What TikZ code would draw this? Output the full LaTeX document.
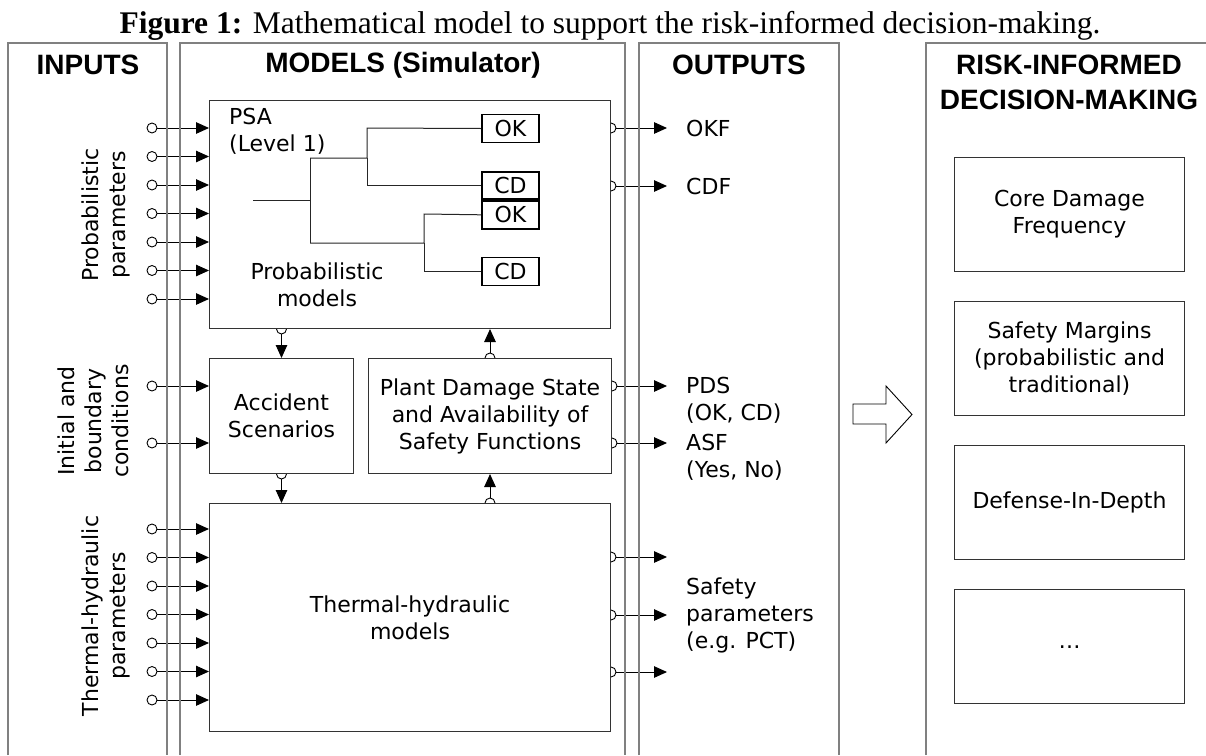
\documentclass[tikz,border=0pt]{standalone}
\usepackage{fontspec}
\setmainfont{Liberation Serif}
\setsansfont{DejaVu Sans}
\newfontfamily\headfont{Liberation Sans}
\usepackage{tikz}
\usetikzlibrary{arrows.meta,positioning,backgrounds}

\begin{document}
\begin{tikzpicture}[x=1pt,y=-1pt,>={Triangle[length=13pt,width=11.5pt]},
  font=\sffamily\fontsize{22}{27}\selectfont,
  frame/.style={draw=black!50,line width=1.3pt},
  box/.style={draw=black!80,fill=white,line width=1pt,inner sep=0pt,align=center,anchor=north west},
  leaf/.style={draw,line width=1.8pt,minimum width=57pt,minimum height=28pt,inner sep=0pt},
  port/.style={circle,draw,fill=white,inner sep=0pt,minimum size=10pt,line width=0.9pt},
  head/.style={font=\headfont\bfseries\fontsize{28}{35}\selectfont,align=center},
  lbl/.style={inner sep=0pt,align=left,anchor=west},
  side/.style={rotate=90,align=center,inner sep=0pt},
  tree/.style={line width=1pt,black!85},
  link/.style={->,line width=1pt}]
\useasboundingbox (0,0) rectangle (1206,755);

% caption
\node[font=\rmfamily\fontsize{31.5}{36}\selectfont,anchor=base,inner sep=0pt] (title) at (610,33)
  {\textbf{Figure 1:} Mathematical model to support the risk-informed decision-making.};

% columns
\draw[frame] (8,755) |- (167,43) -- (167,755);
\draw[frame] (180,755) |- (625,43) -- (625,755);
\draw[frame] (639,755) |- (839,43) -- (839,755);
\draw[frame] (926,755) |- (1212,43);
\node[head] (hin) at (88,65) {INPUTS};
\node[head] (hmod) at (403,65) {MODELS (Simulator)};
\node[head] (hout) at (739,65) {OUTPUTS};
\node[head] (hrisk) at (1069,82) {RISK-INFORMED\\DECISION-MAKING};

% models
\node[box,minimum width=401pt,minimum height=228pt] (psa) at (209,100) {};
\node[box,minimum width=144pt,minimum height=115pt,below=29pt of psa.south west,anchor=north west] (acc) {Accident\\Scenarios};
\node[box,minimum width=243pt,minimum height=115pt,right=14pt of acc,anchor=west] (pds) {Plant Damage State\\and Availability of\\Safety Functions};
\node[box,minimum width=401pt,minimum height=228pt,below=29pt of acc.south west,anchor=north west] (th) {Thermal-hydraulic\\models};
\node[lbl] (psalbl) at (229,131) {PSA\\(Level 1)};
\node[inner sep=0pt,align=center] (pmod) at (317,285) {Probabilistic\\models};

% event tree
\node[leaf] (ok1) at (510.5,128.5) {OK};
\node[leaf,minimum height=27pt] (cd1) at (510.5,185.5) {CD};
\node[leaf,below=0pt of cd1] (ok2) {OK};
\node[leaf] (cd2) at (510.5,271.5) {CD};
\coordinate (ie) at (253,200);
\draw[tree] (ie) -- (310,200) (310,158) -- (310,243);
\draw[tree] (310,158) -| (367,128) -- (ok1.west);
\draw[tree] (367,158) |- (cd1.west);
\draw[tree] (310,243) -| (424,214) -- (ok2.west);
\draw[tree] (424,243) |- (cd2.west);

% input labels
\node[side] (sprob) at (106,215) {Probabilistic\\parameters};
\node[side] (sinit) at (93,421) {Initial and\\boundary\\conditions};
\node[side] (sth) at (106,616) {Thermal-hydraulic\\parameters};

% output labels
\node[lbl] (okf) at (686,128) {OKF};
\node[lbl] (cdfo) at (686,186) {CDF};
\node[lbl] (pdso) at (686,400) {PDS\\(OK, CD)};
\node[lbl] (asf) at (686,457) {ASF\\(Yes, No)};
\node[lbl] (spar) at (686,615) {Safety\\parameters\\(e.g. PCT)};

% decision making
\node[box,minimum width=230pt,minimum height=114pt] (cdf) at (954,157) {Core Damage\\Frequency};
\node[box,minimum width=230pt,minimum height=114pt,below=29pt of cdf] (sm) {Safety Margins\\(probabilistic and\\traditional)};
\node[box,minimum width=230pt,minimum height=114pt,below=29pt of sm] (did) {Defense-In-Depth};
\node[box,minimum width=230pt,minimum height=114pt,below=29pt of did] (etc) {\raisebox{-4pt}{…}};
\draw[line width=0.9pt] (853,404) -- (886,404) -- (886,386) -- (912,414.5) -- (886,443) -- (886,424) -- (853,424) -- cycle;

% connectors
\begin{scope}[on background layer]
\foreach \i in {0,...,6} {
  \node[port] (ip\i) at (152,{128+28.5*\i}) {};
  \draw[link] (ip\i) -- (ip\i -| psa.west);
  \node[port] (it\i) at (152,{529+28.5*\i}) {};
  \draw[link] (it\i) -- (it\i -| th.west);
}
\foreach \y [count=\i] in {386,443} {
  \node[port] (ia\i) at (152,\y) {};
  \draw[link] (ia\i) -- (ia\i -| acc.west);
}
\foreach \y in {128,186} {
  \node[port] (po\y) at (psa.east |- 0,\y) {};
  \coordinate (pe\y) at (667,\y);
  \draw[link] (po\y) -- (pe\y);
}
\foreach \y in {386,443} {
  \node[port] (po\y) at (pds.east |- 0,\y) {};
  \coordinate (pe\y) at (667,\y);
  \draw[link] (po\y) -- (pe\y);
}
\foreach \y in {557,615,672} {
  \node[port] (po\y) at (th.east |- 0,\y) {};
  \coordinate (pe\y) at (667,\y);
  \draw[link] (po\y) -- (pe\y);
}
\node[port] (q1) at (acc.north |- psa.south) {};
\draw[link] (q1) -- (acc.north);
\node[port] (q2) at (acc.south) {};
\draw[link] (q2) -- (q2 |- th.north);
\node[port] (q3) at (pds.south |- th.north) {};
\draw[link] (q3) -- (pds.south);
\node[port] (q4) at (pds.north) {};
\draw[link] (q4) -- (q4 |- psa.south);
\end{scope}
\end{tikzpicture}
\end{document}
